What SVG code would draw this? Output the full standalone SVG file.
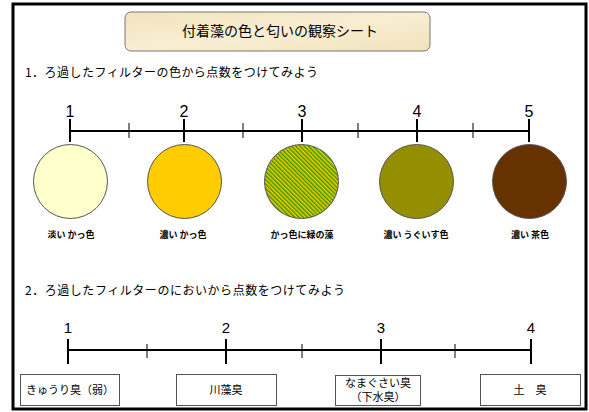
<svg xmlns="http://www.w3.org/2000/svg" width="589" height="412" viewBox="0 0 589 412">
<style>
.jp{font-family:"Noto Sans CJK JP","Noto Sans",sans-serif;fill:#000}
.num{font-family:"Liberation Sans",Arial,sans-serif;fill:#000;text-anchor:middle}
.lbl{font-family:"Noto Sans CJK JP",sans-serif;font-size:9px;font-weight:bold;text-anchor:middle;fill:#000}
.box{fill:#fff;stroke:#555;stroke-width:1}
.btxt{font-family:"Noto Sans CJK JP",sans-serif;font-size:11px;text-anchor:middle;fill:#000}
.axis{stroke:#000;stroke-width:2;fill:none}
.major{stroke:#000;stroke-width:2}
.minor{stroke:#000;stroke-width:1}
.disc{stroke:#555;stroke-width:1}
</style>
<defs>
<linearGradient id="beige" x1="0" y1="0" x2="1" y2="1">
<stop offset="0" stop-color="#f1e3bd"/>
<stop offset="0.5" stop-color="#f8eed3"/>
<stop offset="1" stop-color="#f0e2bb"/>
</linearGradient>
<pattern id="hatch" width="3" height="3" patternUnits="userSpaceOnUse" patternTransform="rotate(-45)">
<rect width="3" height="3" fill="#ffcc00"/>
<rect width="1.5" height="3" fill="#339900"/>
</pattern>
</defs>
<rect x="13" y="4" width="573" height="405" fill="#fff" stroke="#000" stroke-width="3"/>
<g id="title">
<rect x="125" y="12" width="305" height="39" rx="6" fill="url(#beige)" stroke="#777" stroke-width="1"/>
<text class="jp" x="280" y="36" font-size="14" text-anchor="middle">付着藻の色と匂いの観察シート</text>
</g>
<text class="jp" x="25" y="77" font-size="12" textLength="293" lengthAdjust="spacing">1．ろ過したフィルターの色から点数をつけてみよう</text>
<text class="jp" x="25" y="295" font-size="12" textLength="320" lengthAdjust="spacing">2．ろ過したフィルターのにおいから点数をつけてみよう</text>
<g id="connectors">
<line class="axis" x1="70" y1="131" x2="529" y2="131"/>
<line class="major" x1="70" y1="119" x2="70" y2="142"/>
<line class="major" x1="184" y1="119" x2="184" y2="142"/>
<line class="major" x1="302" y1="119" x2="302" y2="142"/>
<line class="major" x1="417" y1="119" x2="417" y2="142"/>
<line class="major" x1="529" y1="119" x2="529" y2="142"/>
<line class="minor" x1="129" y1="123" x2="129" y2="138"/>
<line class="minor" x1="243" y1="123" x2="243" y2="138"/>
<line class="minor" x1="358" y1="123" x2="358" y2="138"/>
<line class="minor" x1="473" y1="123" x2="473" y2="138"/>
<line class="axis" x1="68" y1="350" x2="531" y2="350"/>
<line class="major" x1="68" y1="339" x2="68" y2="364"/>
<line class="major" x1="226" y1="339" x2="226" y2="364"/>
<line class="major" x1="381" y1="339" x2="381" y2="364"/>
<line class="major" x1="531" y1="339" x2="531" y2="364"/>
<line class="minor" x1="147" y1="344" x2="147" y2="358"/>
<line class="minor" x1="302" y1="344" x2="302" y2="358"/>
<line class="minor" x1="455" y1="344" x2="455" y2="358"/>
</g>
<g id="scale1-numbers" font-size="16">
<text class="num" x="70" y="117">1</text>
<text class="num" x="184" y="117">2</text>
<text class="num" x="302" y="117">3</text>
<text class="num" x="417" y="117">4</text>
<text class="num" x="529" y="117">5</text>
</g>
<g id="c1"><circle class="disc" cx="70.5" cy="181.5" r="37" fill="#ffffcc"/><text class="lbl" x="71" y="238">淡い かっ色</text></g>
<g id="c2"><circle class="disc" cx="184.5" cy="181.5" r="37" fill="#ffcc00"/><text class="lbl" x="183" y="238">濃い かっ色</text></g>
<g id="c3"><circle class="disc" cx="301.5" cy="181.5" r="37" fill="url(#hatch)"/><text class="lbl" x="302" y="238">かっ色に緑の藻</text></g>
<g id="c4"><circle class="disc" cx="416.5" cy="181.5" r="37" fill="#948f00"/><text class="lbl" x="416" y="238">濃い うぐいす色</text></g>
<g id="c5"><circle class="disc" cx="529.5" cy="181.5" r="37" fill="#663300"/><text class="lbl" x="530" y="238">濃い 茶色</text></g>
<g id="scale2-numbers" font-size="15">
<text class="num" x="68" y="333">1</text>
<text class="num" x="226" y="333">2</text>
<text class="num" x="381" y="333">3</text>
<text class="num" x="531" y="333">4</text>
</g>
<g id="b1"><rect class="box" x="20.5" y="374.5" width="99" height="31"/><text class="btxt" x="70" y="394">きゅうり臭（弱）</text></g>
<g id="b2"><rect class="box" x="176.5" y="374.5" width="100" height="31"/><text class="btxt" x="226" y="394">川藻臭</text></g>
<g id="b3"><rect class="box" x="335.5" y="375.5" width="85" height="30"/><text class="btxt" x="378" y="386.5" font-size="9.5">なまぐさい臭</text><text class="btxt" x="378" y="401" font-size="9.5">（下水臭）</text></g>
<g id="b4"><rect class="box" x="480.5" y="374.5" width="100" height="31"/><text class="btxt" x="530" y="394">土　臭</text></g>
</svg>
